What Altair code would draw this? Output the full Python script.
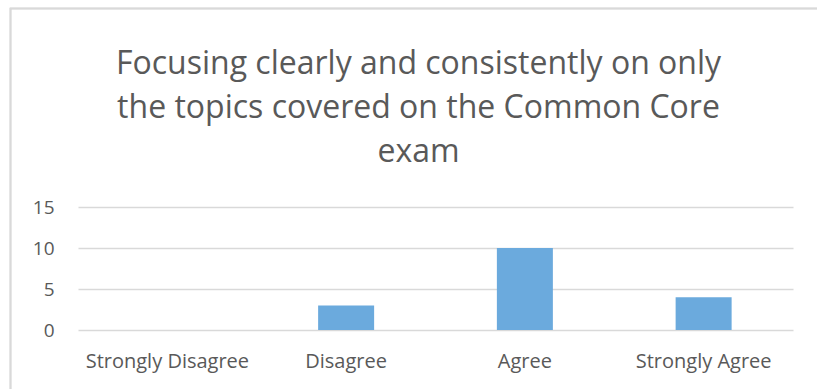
import altair as alt
import pandas as pd

categories = ["Strongly Disagree", "Disagree", "Agree", "Strongly Agree"]
values = [0, 3, 10, 4]
title_lines = ["Focusing clearly and consistently on only",
               "the topics covered on the Common Core",
               "exam"]

df = pd.DataFrame({"category": categories, "value": values})

FONT = "Open Sans"
TXT = "#595959"
W, H = 715, 123

bars = alt.Chart(df).mark_bar(size=56, color="#6BAADD").encode(
    x=alt.X("category:N", sort=categories, title=None,
            scale=alt.Scale(paddingInner=0, paddingOuter=0),
            axis=alt.Axis(labelAngle=0, labelFont=FONT, labelFontSize=20,
                          labelColor=TXT, labelPadding=21, ticks=False,
                          domain=False, grid=False)),
    y=alt.Y("value:Q", title=None,
            scale=alt.Scale(domain=[0, 15]),
            axis=alt.Axis(values=[0, 5, 10, 15], labelFont=FONT, labelFontSize=19,
                          labelColor=TXT, labelPadding=24, ticks=False,
                          domain=False, gridColor="#d9d9d9", gridWidth=1.3)),
)

border = alt.Chart(df).mark_rect(filled=False, stroke="#d9d9d9", strokeWidth=1.5).encode(
    x=alt.value(-67.5), x2=alt.value(W + 80),
    y=alt.value(-198.5), y2=alt.value(H + 80),
)

chart = alt.layer(border, bars).properties(
    width=W, height=H,
    background="white",
    autosize=alt.AutoSizeParams(type="none"),
    padding={"left": 78, "top": 207, "right": 24, "bottom": 59},
    title=alt.TitleParams(text=title_lines, font=FONT, fontSize=32, fontWeight="normal",
                          color=TXT, anchor="middle", frame="group", lineHeight=44,
                          offset=-161, dx=-17),
).configure_view(strokeWidth=0, stroke="transparent")

chart.save("out.html", embed_options={"renderer": "svg", "actions": False})
